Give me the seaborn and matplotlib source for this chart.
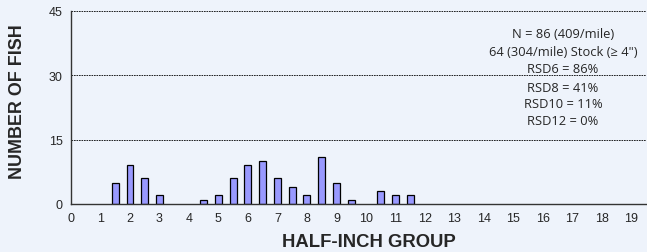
import matplotlib
matplotlib.use("Agg")
import matplotlib.pyplot as plt
import seaborn as sns
import pandas as pd
import numpy as np

groups = [1.5, 2, 2.5, 3, 4.5, 5, 5.5, 6, 6.5, 7, 7.5, 8, 8.5, 9, 9.5, 10.5, 11, 11.5]
counts = [5, 9, 6, 2, 1, 2, 6, 9, 10, 6, 4, 2, 11, 5, 1, 3, 2, 2]
x_ticks = list(range(0, 20))
y_ticks = [0, 15, 30, 45]
stats_text = ["N = 86 (409/mile)", "64 (304/mile) Stock (\u2265 4\")",
              "RSD6 = 86%", "RSD8 = 41%", "RSD10 = 11%", "RSD12 = 0%"]

sns.set_style("white")
plt.rcParams['font.family'] = ['Liberation Sans', 'DejaVu Sans']

bg = '#EEF3FB'
fig = plt.figure(figsize=(6.47, 2.53), dpi=100, facecolor=bg)
ax = fig.add_axes([71/647, 1 - 205/253, (646-71)/647, (205-12)/253])
ax.set_facecolor(bg)

df = pd.DataFrame({"group": groups, "count": counts})
sns.barplot(data=df, x="group", y="count", native_scale=True, width=0.47,
            color='#9999FF', saturation=1, edgecolor='black', linewidth=0.9, ax=ax)

ax.set_xlim(0, 19.5)
ax.set_ylim(0, 45)
ax.set_yticks(y_ticks)
ax.set_xticks(x_ticks)
ax.set_xticks(np.arange(0.5, 19.6, 1.0), minor=True)
ax.tick_params(axis='x', which='both', direction='out', length=4, width=0.8, color='#333333',
               labelsize=9, pad=2)
ax.tick_params(axis='y', which='major', direction='out', length=4, width=0.8, color='#333333',
               labelsize=9, pad=2)
for y in [15, 30, 45]:
    ax.axhline(y, color='black', linestyle=(0, (2, 1)), linewidth=0.6, zorder=0)
for s in ['top', 'right']:
    ax.spines[s].set_visible(False)
ax.spines['left'].set_color('#333333')
ax.spines['bottom'].set_color('#333333')
ax.spines['left'].set_linewidth(1.0)
ax.spines['bottom'].set_linewidth(1.0)

ax.set_xlabel("")
ax.set_ylabel("")
fig.text(369/647, 1 - 243/253, "HALF-INCH GROUP", fontsize=13.3, fontweight='bold',
         ha='center', va='center')
fig.text(18/647, 1 - 102/253, "NUMBER OF FISH", fontsize=12.9, fontweight='bold',
         ha='center', va='center', rotation=90)

ys = [35, 53, 70, 88, 105, 122]
for t, yp in zip(stats_text, ys):
    fig.text(563/647, 1 - yp/253, t, ha='center', va='center', fontsize=9.3,
             family=['Open Sans', 'DejaVu Sans'])

fig.savefig("out.png", dpi=100, facecolor=bg)
